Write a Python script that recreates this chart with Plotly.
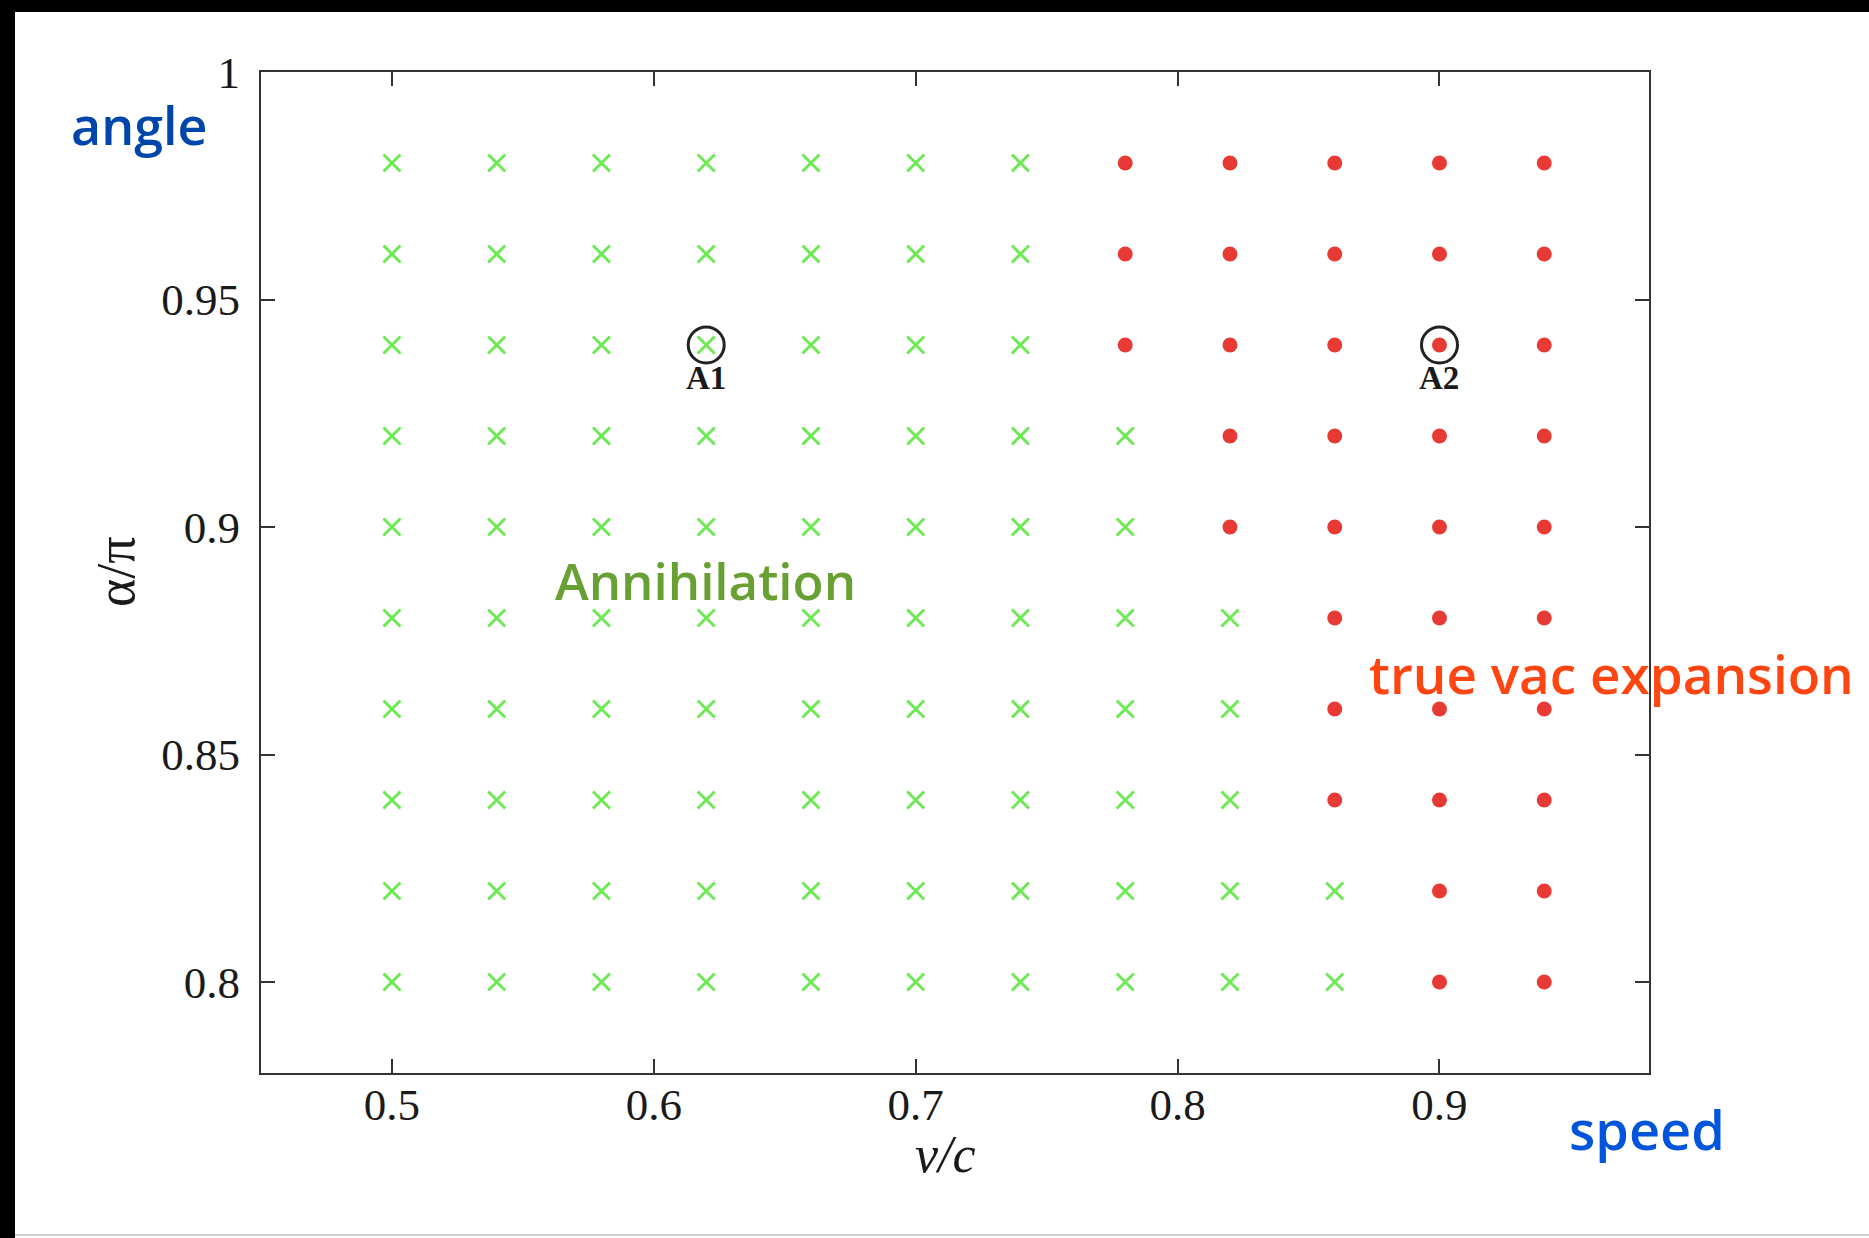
import plotly.graph_objects as go

# ---- data ----
speeds = [0.50, 0.54, 0.58, 0.62, 0.66, 0.70, 0.74, 0.78, 0.82, 0.86, 0.90, 0.94]
angles = [0.80, 0.82, 0.84, 0.86, 0.88, 0.90, 0.92, 0.94, 0.96, 0.98]
# lowest speed (v/c) at which the outcome is "true vac expansion", one per angle row
first_expansion_speed = [0.90, 0.90, 0.86, 0.86, 0.86, 0.82, 0.82, 0.78, 0.78, 0.78]
highlight_names = ["A1", "A2"]
highlight_speed = [0.62, 0.90]
highlight_angle = [0.94, 0.94]
x_ticks = [0.5, 0.6, 0.7, 0.8, 0.9]
y_ticks = [0.8, 0.85, 0.9, 0.95, 1.0]
y_tick_text = ["0.8", "0.85", "0.9", "0.95", "1"]

ann_x, ann_y, exp_x, exp_y = [], [], [], []
for a, vmin in zip(angles, first_expansion_speed):
    for v in speeds:
        if v >= vmin - 1e-9:
            exp_x.append(v); exp_y.append(a)
        else:
            ann_x.append(v); ann_y.append(a)

W, H = 1869, 1238
L, R, T, B = 261, 220, 72, 165
PW, PH = W - L - R, H - T - B


def px(xp):
    return (xp - L) / PW


def py(yp):
    return (H - B - yp) / PH


fig = go.Figure()
fig.add_trace(go.Scatter(x=ann_x, y=ann_y, mode="markers",
                         marker=dict(symbol="x-thin", size=17, color="rgb(110,232,85)",
                                     line=dict(width=3, color="rgb(110,232,85)")),
                         name="Annihilation"))
fig.add_trace(go.Scatter(x=exp_x, y=exp_y, mode="markers",
                         marker=dict(symbol="circle", size=15, color="rgb(232,58,52)"),
                         name="true vac expansion"))
fig.add_trace(go.Scatter(x=highlight_speed, y=highlight_angle, mode="markers",
                         marker=dict(symbol="circle-open", size=36, color="#222222",
                                     line=dict(width=3, color="#222222")),
                         name="highlight"))

serif = "Liberation Serif, Times New Roman, serif"
sans = "Open Sans, Noto Sans, Arial, sans-serif"

annotations = []
for n, vx, vy in zip(highlight_names, highlight_speed, highlight_angle):
    annotations.append(dict(x=vx, y=vy, xref="x", yref="y", text=n, showarrow=False,
                            yshift=-33, xanchor="center", yanchor="middle",
                            font=dict(family=serif, size=33, color="#1a1a1a", weight="bold")))


def txt(x, y, text, size, color, family=sans, weight="normal", angle=0):
    return dict(x=px(x), y=py(y), xref="paper", yref="paper", text=text, showarrow=False,
                xanchor="center", yanchor="middle", textangle=angle,
                font=dict(family=family, size=size, color=color, weight=weight))


annotations += [
    txt(705, 580, "Annihilation", 51, "rgb(104,160,52)", weight=600),
    txt(1611, 673, "true vac expansion", 53, "rgb(255,70,18)", weight=600),
    txt(139, 124, "angle", 52, "rgb(0,70,170)", weight=600),
    txt(1647, 1129, "speed", 54, "rgb(0,85,220)", weight=600),
    txt(945, 1154, "<i>v/c</i>", 52, "#1a1a1a", family=serif),
    txt(116, 572, "α/π", 54, "#1a1a1a", family=serif, angle=-90),
]

# screenshot frame (dark edges at top and left)
shapes = [
    dict(type="rect", xref="paper", yref="paper", x0=px(-5), x1=px(W + 5),
         y0=py(12), y1=py(-5), fillcolor="black", line_width=0, layer="above"),
    dict(type="rect", xref="paper", yref="paper", x0=px(-5), x1=px(15),
         y0=py(H + 5), y1=py(-5), fillcolor="black", line_width=0, layer="above"),
    dict(type="line", xref="paper", yref="paper", x0=px(15), x1=px(W),
         y0=py(1235), y1=py(1235), line=dict(color="#d0d0d0", width=2), layer="above"),
]

axis_common = dict(showline=True, linewidth=2.2, linecolor="#333333", mirror="ticks",
                   ticks="inside", ticklen=14, tickwidth=2, tickcolor="#333333",
                   showgrid=False, zeroline=False,
                   tickfont=dict(family=serif, size=45, color="#1a1a1a"))

fig.update_layout(
    width=W, height=H,
    margin=dict(l=L, r=R, t=T, b=B),
    paper_bgcolor="white", plot_bgcolor="white",
    showlegend=False,
    xaxis=dict(range=[0.45, 0.98], tickvals=x_ticks, ticktext=[str(t) for t in x_ticks],
               ticklabelstandoff=-9, **axis_common),
    yaxis=dict(range=[0.78, 1.0], tickvals=y_ticks, ticktext=y_tick_text,
               ticklabelstandoff=10, **axis_common),
    annotations=annotations,
    shapes=shapes,
)

fig.write_html("out.html", config={"displayModeBar": False},
               post_script="document.body.style.margin='0';document.body.style.overflow='hidden';")
